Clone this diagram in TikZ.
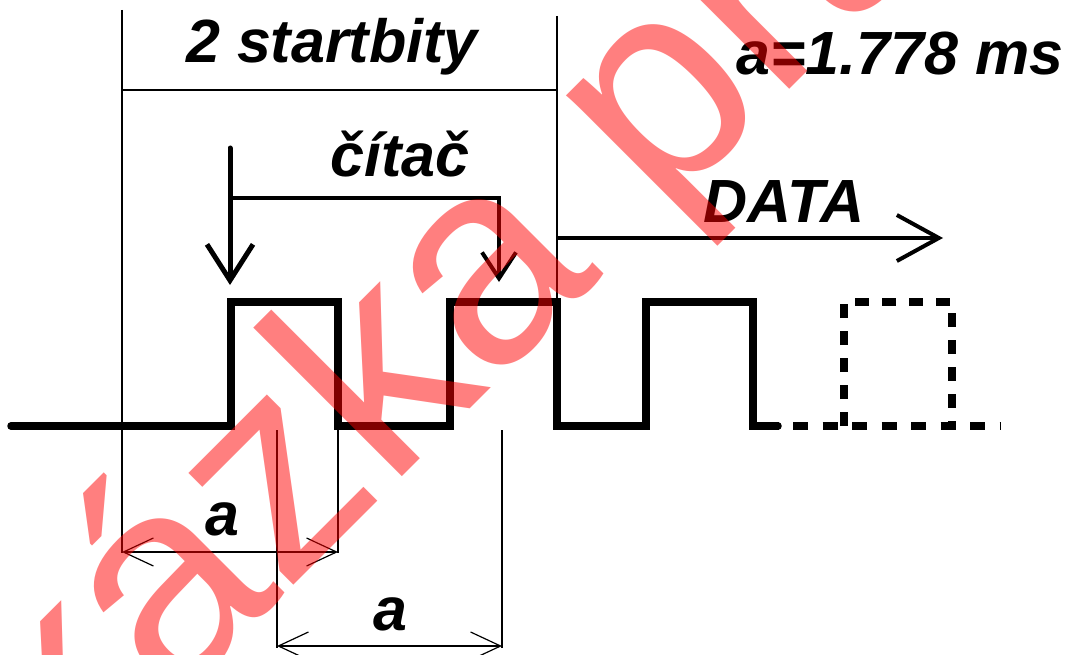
\documentclass[tikz,border=0pt]{standalone}
\usepackage{fontspec}
\setmainfont{Liberation Sans}
\usetikzlibrary{arrows.meta}

\tikzset{
  % thin construction / dimension lines
  guide/.style={line width=1.4pt},
  dimline/.style={line width=1.2pt,
    {Straight Barb[length=30pt,width=28pt]}-{Straight Barb[length=30pt,width=28pt]}},
  % the pulse train
  signal/.style={line width=7.5pt, line join=miter},
  % arrows
  bigarrow/.style={line width=5pt, line cap=round, -{Straight Barb[length=36pt,width=46pt]}},
  smallarrow/.style={line width=4pt, line join=miter, -{Straight Barb[length=26pt,width=34pt]}},
  dataarrow/.style={line width=4pt, -{Straight Barb[length=42pt,width=46pt]}},
  % labels
  lbl/.style={font=\fontsize{61}{61}\selectfont\bfseries\itshape, inner sep=0pt, anchor=base},
  stamp/.style={font=\fontsize{290}{290}\selectfont, text=red, text opacity=0.5,
    inner sep=0pt, anchor=base west, rotate=45},
}

\begin{document}
\begin{tikzpicture}[x=1pt, y=-1pt]
  \useasboundingbox[fill=white] (0,0) rectangle (1075,655);

  % ---- reference points ----
  \coordinate (L0) at (122,10);
  \coordinate (L1) at (122,553);
  \coordinate (R0) at (557,16);
  \coordinate (R1) at (557,302);
  \coordinate (H0) at (122,90);
  \coordinate (H1) at (557,90);

  % ---- bracket over the two start bits ----
  \draw[guide] (L0) -- (L1);
  \draw[guide] (R0) -- (R1);
  \draw[guide] (H0) -- (H1);

  % ---- labels ----
  \node[lbl] (title) at (332,63)  {2 startbity};
  \node[lbl] (cnt)   at (400,177) {čítač};
  \node[lbl] (val)   at (900,75)  {a=1.778 ms};
  \node[lbl] (data)  at (784,222) {DATA};
  \node[lbl] (da1)   at (222,535) {a};
  \node[lbl] (da2)   at (390,630) {a};

  % ---- pulse train ----
  \draw[signal, line cap=round]
    (11,426) -- (231,426) -- (231,302) -- (338,302) -- (338,426)
    -- (450,426) -- (450,302) -- (557,302) -- (557,426)
    -- (646,426) -- (646,302) -- (753,302) -- (753,426) -- (778,426);
  \draw[signal, dash pattern=on 15pt off 14.5pt, dash phase=14.5pt]
    (778,426) -- (1000,426);
  \draw[signal, dash pattern=on 14pt off 13pt]
    (844,426) -- (844,302) -- (952,302) -- (952,426);

  % ---- counter arrows ----
  \coordinate (c0) at (230,148);
  \coordinate (c1) at (230,198);
  \coordinate (t1) at (230,285);
  \coordinate (t2) at (499,282);
  \draw[bigarrow] (c0) -- (t1);
  \draw[smallarrow] (c1) -| (t2);

  % ---- data arrow ----
  \coordinate (d0) at (557,238);
  \coordinate (d1) at (943,238);
  \draw[dataarrow] (d0) -- (d1);

  % ---- dimensions ----
  \coordinate (e1a) at (338,430);
  \coordinate (e1b) at (338,553);
  \coordinate (e2a) at (277,430);
  \coordinate (e2b) at (277,648);
  \coordinate (e3a) at (502,430);
  \coordinate (e3b) at (502,648);
  \draw[guide] (e1a) -- (e1b);
  \draw[guide] (e2a) -- (e2b);
  \draw[guide] (e3a) -- (e3b);
  \draw[dimline] (122,552) -- (338,552);
  \draw[dimline] (277,646) -- (502,646);

  % ---- sample stamp across the sheet ----
  \begin{scope}
    \clip (0,0) rectangle (1075,655);
    \node[stamp] (mark) at (-79,958) {Ukázka práce};
  \end{scope}
\end{tikzpicture}
\end{document}
